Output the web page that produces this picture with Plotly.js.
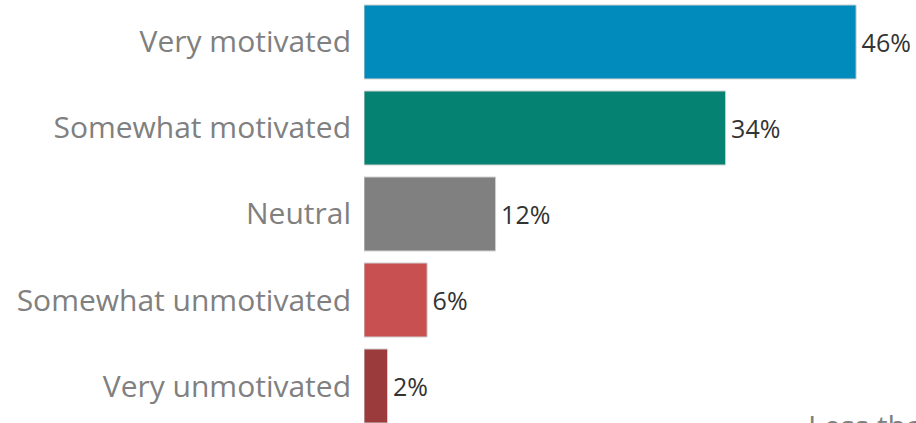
<!DOCTYPE html>
<html><head><meta charset="utf-8">
<script src="https://cdn.plot.ly/plotly-3.0.1.min.js"></script>
<style>html,body{margin:0;padding:0;overflow:hidden;background:#fff}</style>
</head><body>
<div id="chart" style="width:916px;height:423px"></div>
<script>
const categories = ["Very motivated", "Somewhat motivated", "Neutral", "Somewhat unmotivated", "Very unmotivated"];
const values = [46, 33.8, 12.3, 5.9, 2.2];
const valueLabels = ["46%", "34%", "12%", "6%", "2%"];
const barColors = ["#008BBC", "#068272", "#808080", "#C85050", "#9B3B3B"];

Plotly.newPlot("chart", [{
  type: "bar",
  orientation: "h",
  y: categories,
  x: values,
  text: valueLabels.map(function (s) { return "\u200A" + s; }),
  textposition: "outside",
  cliponaxis: false,
  textfont: {family: "Open Sans", size: 25, color: "#333333"},
  marker: {color: barColors, line: {color: "#d0d0d0", width: 1}},
  hoverinfo: "none"
}], {
  width: 916, height: 423,
  margin: {l: 364, r: 0, t: 0, b: 0},
  paper_bgcolor: "#ffffff", plot_bgcolor: "#ffffff",
  bargap: 0.14,
  showlegend: false,
  font: {family: "Open Sans"},
  xaxis: {range: [0, 51.6], showgrid: false, zeroline: false, showticklabels: false, showline: false, ticks: ""},
  yaxis: {type: "category", range: [4.43, -0.488], showgrid: false, zeroline: false, showline: false,
          ticks: "", ticklabelstandoff: 12, tickfont: {family: "Open Sans", size: 30, color: "#808080"}},
  annotations: [{
    text: "Less than 1%", xref: "paper", yref: "paper", x: (806 - 364) / 552, y: 0.047,
    xanchor: "left", yanchor: "top", showarrow: false,
    font: {family: "Open Sans", size: 30, color: "#808080"}
  }]
}, {staticPlot: true});
</script>
</body></html>
